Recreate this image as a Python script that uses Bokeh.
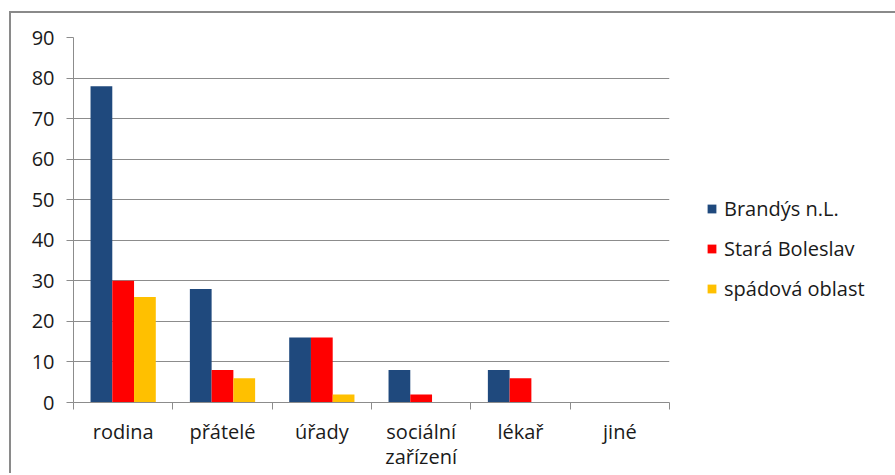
from bokeh.plotting import figure
from bokeh.models import FixedTicker, Legend, LegendItem, ColumnDataSource
from bokeh.transform import dodge
from bokeh.embed import file_html
from bokeh.resources import INLINE

categories = ["rodina", "přátelé", "úřady", "sociální\nzařízení", "lékař", "jiné"]
series_names = ["Brandýs n.L.", "Stará Boleslav", "spádová oblast"]
brandys = [78, 28, 16, 8, 8, 0]
stara = [30, 8, 16, 2, 6, 0]
spadova = [26, 6, 2, 0, 0, 0]
colors = ["#1F497D", "#FF0000", "#FFC000"]
y_ticks = [0, 10, 20, 30, 40, 50, 60, 70, 80, 90]

centers = [i + 0.5 for i in range(len(categories))]
bounds = [i for i in range(len(categories) + 1)]

src = ColumnDataSource(dict(x=centers, b=brandys, s=stara, o=spadova))

FONT = "Open Sans"
TXT = "#1a1a1a"
GRID = "#8c8c8c"

p = figure(width=880, height=460, output_backend="svg", toolbar_location=None,
           x_range=(0, len(categories)), y_range=(0, 90),
           min_border_left=62, min_border_top=24, min_border_bottom=40,
           frame_width=596, frame_height=365)
p.styles = {"border-left": "2px solid #8a8a8a", "border-top": "2px solid #8a8a8a",
            "margin-left": "9px", "margin-top": "11px"}
p.outline_line_color = None
p.background_fill_color = "white"
p.border_fill_color = "white"

bw = 0.219
rs = []
for key, off, col in zip(["b", "s", "o"], [-bw, 0, bw], colors):
    r = p.vbar(x=dodge("x", off), top=key, width=bw, bottom=0, source=src,
               fill_color=col, line_color=None)
    rs.append(r)

p.xgrid.grid_line_color = None
p.ygrid.grid_line_color = GRID
p.ygrid.grid_line_width = 1
p.ygrid.ticker = FixedTicker(ticks=y_ticks)

p.yaxis.ticker = FixedTicker(ticks=y_ticks)
p.yaxis.axis_line_color = GRID
p.yaxis.major_tick_line_color = GRID
p.yaxis.major_tick_out = 7
p.yaxis.major_tick_in = 0
p.yaxis.minor_tick_line_color = None
p.yaxis.major_label_standoff = 12
p.yaxis.major_label_text_font = FONT
p.yaxis.major_label_text_font_size = "20px"
p.yaxis.major_label_text_color = TXT

p.xaxis.ticker = FixedTicker(ticks=centers, minor_ticks=bounds)
p.xaxis.major_label_overrides = {c: lab for c, lab in zip(centers, categories)}
p.xaxis.axis_line_color = GRID
p.xaxis.major_tick_line_color = None
p.xaxis.major_tick_out = 0
p.xaxis.major_tick_in = 0
p.xaxis.minor_tick_line_color = GRID
p.xaxis.minor_tick_out = 7
p.xaxis.minor_tick_in = 0
p.xaxis.major_label_standoff = 8
p.xaxis.major_label_text_font = FONT
p.xaxis.major_label_text_font_size = "20px"
p.xaxis.major_label_text_color = TXT
p.xaxis.major_label_text_line_height = 0.95

legend = Legend(items=[LegendItem(label=n, renderers=[r]) for n, r in zip(series_names, rs)],
                location=(37, 100), orientation="vertical",
                glyph_width=11, glyph_height=11, label_standoff=7,
                label_text_font=FONT, label_text_font_size="20px", label_text_color=TXT,
                label_height=20, spacing=13, padding=0, margin=0,
                border_line_color=None, background_fill_alpha=0)
p.add_layout(legend, "right")

open("out.html", "w").write(file_html(p, INLINE))
